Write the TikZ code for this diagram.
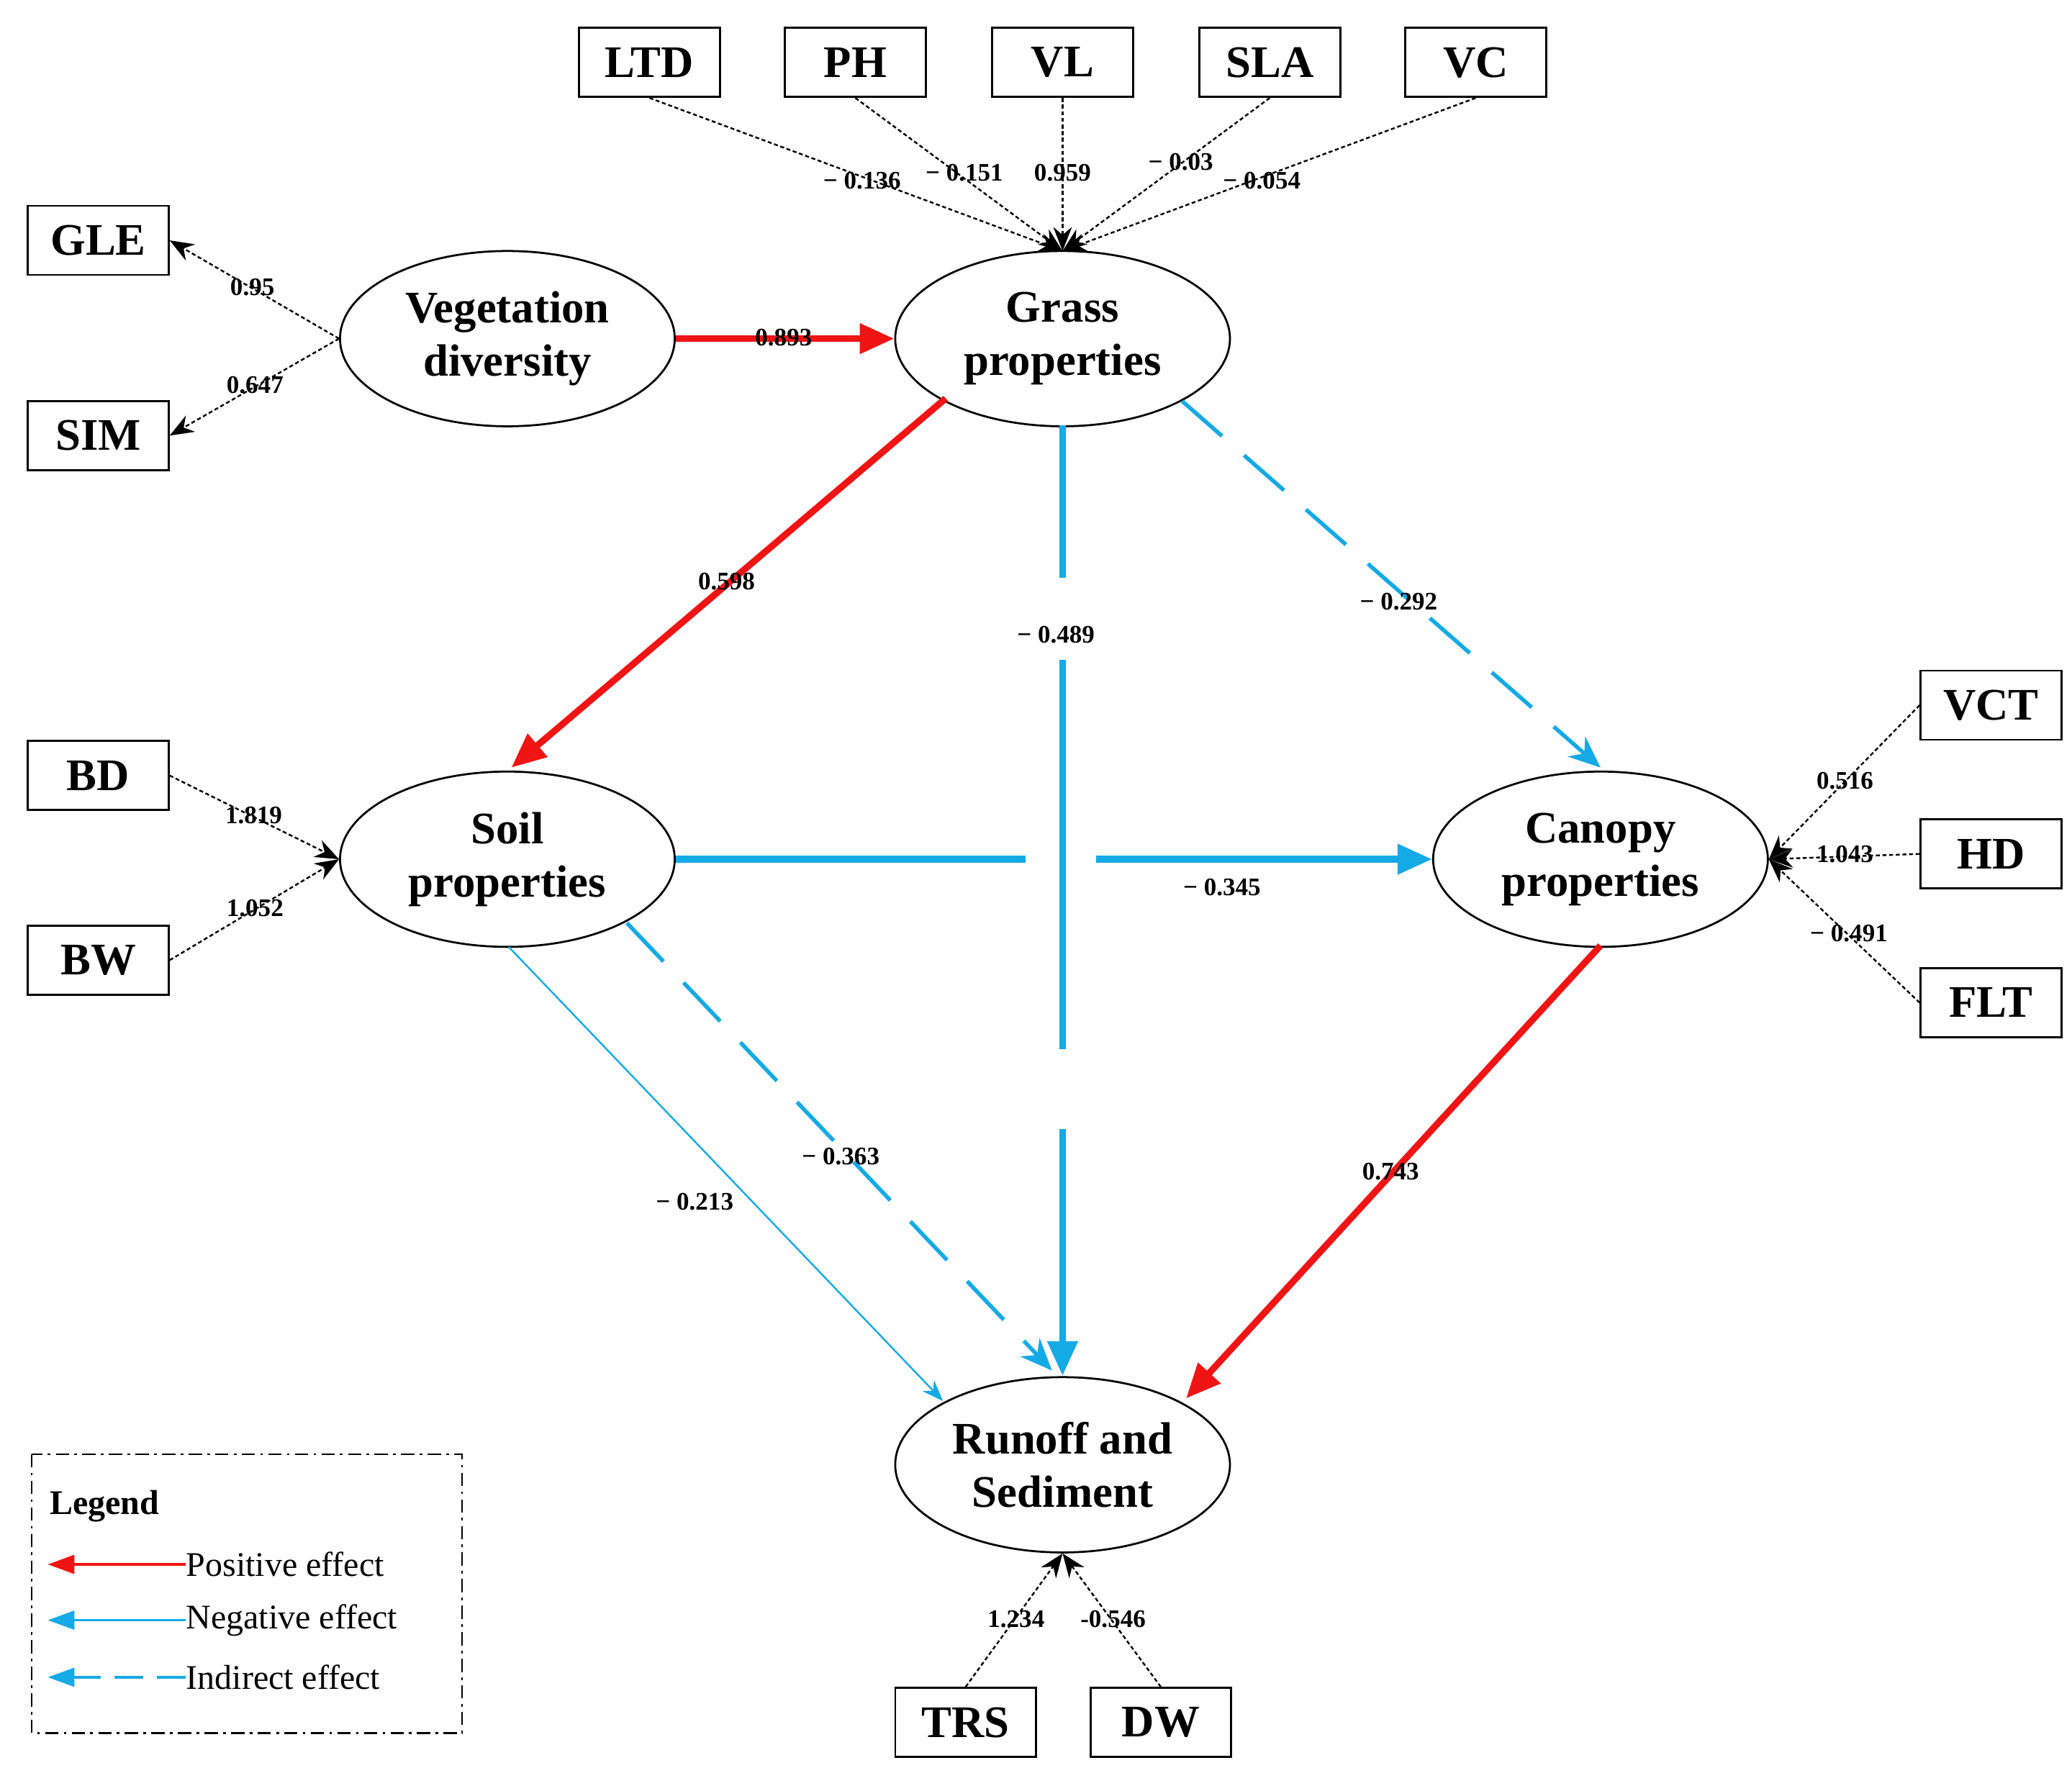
\documentclass[tikz,border=0pt]{standalone}
\usepackage{fontspec}
\setmainfont{Liberation Serif}
\usetikzlibrary{arrows.meta,shapes.geometric}
\definecolor{posc}{RGB}{240,20,20}
\definecolor{negc}{RGB}{20,170,230}
\begin{document}
\begin{tikzpicture}[x=1pt,y=-1pt,
 box/.style={draw,line width=1.5pt,minimum width=106pt,minimum height=52pt,inner sep=0pt,font=\fontsize{34}{36}\selectfont\bfseries},
 ell/.style={draw,ellipse,line width=1.5pt,minimum width=252pt,minimum height=132pt,inner sep=0pt,align=center,font=\fontsize{34}{40}\selectfont\bfseries},
 lab/.style={font=\fontsize{19}{20}\selectfont\bfseries,inner sep=1pt},
 blk/.style={densely dashed,line width=1.3pt,-{Stealth[length=18pt,width=14pt]}},
 posa/.style={posc,line width=5pt,-{Triangle[length=26pt,width=22pt]}},
 nega/.style={negc,line width=5pt,-{Triangle[length=26pt,width=22pt]}},
 inda/.style={negc,line width=3pt,dash pattern=on 40pt off 22pt,-{Stealth[length=24pt,width=20pt]}}]
\useasboundingbox (0,0) rectangle (1560,1331);
\node[box] (LTD) at (489,47) {LTD};
\node[box] (PH) at (644,47) {PH};
\node[box] (VL) at (800,47) {VL};
\node[box] (SLA) at (956,47) {SLA};
\node[box] (VC) at (1111,47) {VC};
\node[box] (GLE) at (74,181) {GLE};
\node[box] (SIM) at (74,328) {SIM};
\node[box] (BD) at (74,584) {BD};
\node[box] (BW) at (74,723) {BW};
\node[box] (VCT) at (1499,531) {VCT};
\node[box] (HD) at (1499,643) {HD};
\node[box] (FLT) at (1499,755) {FLT};
\node[box] (TRS) at (727,1297) {TRS};
\node[box] (DW) at (874,1297) {DW};
\node[ell] (veg) at (382,255) {Vegetation\\diversity};
\node[ell] (gr) at (800,255) {Grass\\properties};
\node[ell] (soil) at (382,647) {Soil\\properties};
\node[ell] (can) at (1205,647) {Canopy\\properties};
\node[ell] (run) at (800,1103) {Runoff and\\Sediment};
\coordinate (gt) at (800,189);
\foreach \n in {LTD,PH,VL,SLA,VC} \draw[blk] (\n.south) -- (gt);
\node[lab] at (649,136) {− 0.136};
\node[lab] at (726,130) {− 0.151};
\node[lab] at (800,130) {0.959};
\node[lab] at (889,122) {− 0.03};
\node[lab] at (950,136) {− 0.054};
\draw[blk] (veg.west) -- (GLE.east);
\draw[blk] (veg.west) -- (SIM.east);
\node[lab] at (190,216) {0.95};
\node[lab] at (192,290) {0.647};
\draw[posa] (veg.east) -- (gr.west);
\node[lab] at (590,254) {0.893};
\draw[posa] (712,300) -- (385,578);
\node[lab] at (547,438) {0.598};
\draw[negc,line width=5pt] (800,320) -- (800,435);
\draw[negc,line width=5pt] (800,497) -- (800,790);
\draw[nega] (800,850) -- (800,1036);
\node[lab] at (795,478) {− 0.489};
\draw[inda] (890,302) -- (1205,578);
\node[lab] at (1053,453) {− 0.292};
\draw[negc,line width=5pt] (soil.east) -- (772,647);
\draw[nega] (825,647) -- (can.west);
\node[lab] at (920,668) {− 0.345};
\draw[negc,line width=1.3pt,-{Stealth[length=16pt,width=12pt]}] (383,713) -- (710,1055);
\node[lab] at (523,905) {− 0.213};
\draw[inda] (472,695) -- (792,1032);
\node[lab] at (633,871) {− 0.363};
\draw[posa] (1205,712) -- (893,1053);
\node[lab] at (1047,882) {0.743};
\draw[blk] (BD.east) -- (soil.west);
\draw[blk] (BW.east) -- (soil.west);
\node[lab] at (191,614) {1.819};
\node[lab] at (192,684) {1.052};
\draw[blk] (VCT.west) -- (can.east);
\draw[blk] (HD.west) -- (can.east);
\draw[blk] (FLT.west) -- (can.east);
\node[lab] at (1389,588) {0.516};
\node[lab] at (1389,643) {1.043};
\node[lab] at (1392,703) {− 0.491};
\draw[blk] (TRS.north) -- (run.south);
\draw[blk] (DW.north) -- (run.south);
\node[lab] at (765,1219) {1.234};
\node[lab] at (838,1219) {-0.546};
\draw[line width=1.3pt,dash pattern=on 10pt off 4pt on 2pt off 4pt] (24,1095) rectangle (348,1305);
\node[anchor=west,font=\fontsize{26}{28}\selectfont\bfseries] (lg) at (34,1134) {Legend};
\coordinate (p1) at (140,1178); \coordinate (p0) at (36,1178);
\coordinate (n1) at (140,1220); \coordinate (n0) at (36,1220);
\coordinate (i1) at (140,1263); \coordinate (i0) at (36,1263);
\draw[posc,line width=2pt,-{Triangle[length=20pt,width=14pt]}] (p1) -- (p0);
\draw[negc,line width=2pt,-{Triangle[length=20pt,width=14pt]}] (n1) -- (n0);
\draw[negc,line width=2pt,dash pattern=on 22pt off 10pt,-{Triangle[length=20pt,width=14pt]}] (i1) -- (i0);
\node[anchor=west,inner sep=0pt,font=\fontsize{26}{28}\selectfont] at (p1) {Positive effect};
\node[anchor=west,inner sep=0pt,font=\fontsize{26}{28}\selectfont] at (n1) {Negative effect};
\node[anchor=west,inner sep=0pt,font=\fontsize{26}{28}\selectfont] at (i1) {Indirect effect};
\end{tikzpicture}
\end{document}
